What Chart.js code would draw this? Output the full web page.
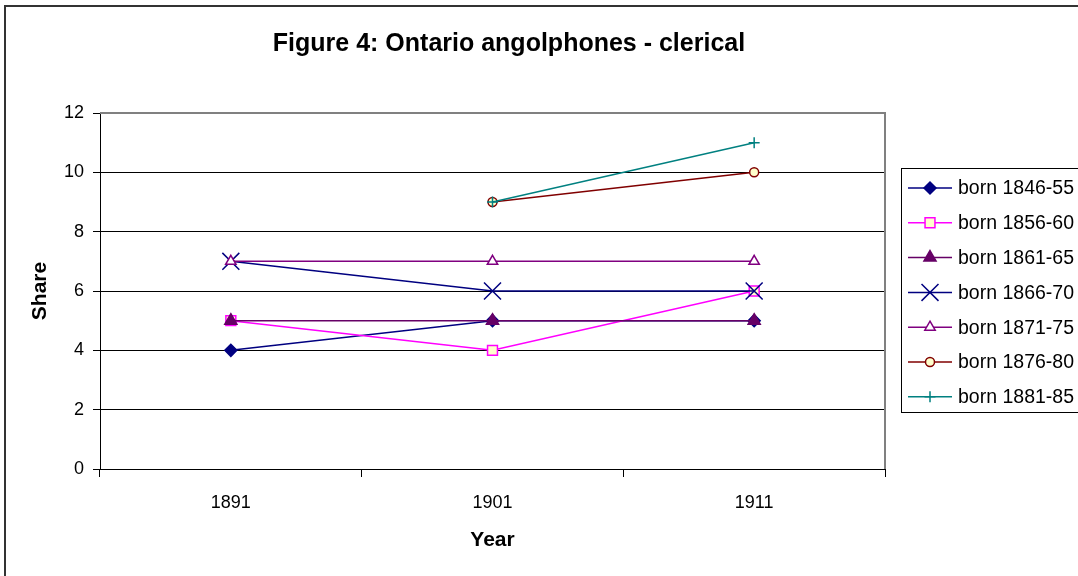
<!DOCTYPE html>
<html>
<head>
<meta charset="utf-8">
<script src="https://cdn.jsdelivr.net/npm/chart.js@4/dist/chart.umd.min.js"></script>
<style>
  html, body { margin: 0; padding: 0; background: #fff; }
  #wrap { width: 1078px; height: 576px; }
</style>
</head>
<body>
<div id="wrap"><canvas id="fig4" width="1078" height="576"></canvas></div>
<script>
    // Datos del gráfico
    const years = ['1891', '1901', '1911'];
    const seriesNames = ['born 1846-55', 'born 1856-60', 'born 1861-65', 'born 1866-70', 'born 1871-75', 'born 1876-80', 'born 1881-85'];
    const born1846 = [4, 5, 5];
    const born1856 = [5, 4, 6];
    const born1861 = [5, 5, 5];
    const born1866 = [7, 6, 6];
    const born1871 = [7, 7, 7];
    const born1876 = [null, 9, 10];
    const born1881 = [null, 9, 11];
    const yTicks = [0, 2, 4, 6, 8, 10, 12];

    const FONT = '"Liberation Sans", Arial, sans-serif';

    // estilo de cada serie (línea + marcador)
    const styles = [
        { color: '#000080', point: 'rectRot', radius: 6, fill: '#000080' },
        { color: '#FF00FF', point: 'rect', radius: 7, fill: '#FFFFCC' },
        { color: '#660066', point: 'triangle', radius: 7, fill: '#660066' },
        { color: '#000080', point: 'crossRot', radius: 12, fill: '#000080' },
        { color: '#800080', point: 'triangle', radius: 6, fill: '#FFFFFF' },
        { color: '#800000', point: 'circle', radius: 4.5, fill: '#FFFFCC' },
        { color: '#008080', point: 'cross', radius: 5.5, fill: '#008080' }
    ];
    const values = [born1846, born1856, born1861, born1866, born1871, born1876, born1881];

    const datasets = values.map((v, i) => ({
        label: seriesNames[i],
        data: v,
        borderColor: styles[i].color,
        backgroundColor: styles[i].fill,
        borderWidth: 1.5,
        pointStyle: styles[i].point,
        pointRadius: styles[i].radius,
        pointHoverRadius: styles[i].radius,
        pointBorderColor: styles[i].color,
        pointBackgroundColor: styles[i].fill,
        pointBorderWidth: 1.5,
        tension: 0,
        order: values.length - i // las últimas series quedan encima
    }));

    // marco exterior, título y leyenda dibujados a mano
    const decor = {
        id: 'decor',
        beforeDraw(chart) {
            const c = chart.ctx;
            c.save();
            c.fillStyle = '#fff';
            c.fillRect(0, 0, chart.width, chart.height);
            c.strokeStyle = '#333';
            c.lineWidth = 2;
            c.strokeRect(5, 6, 1200, 700);
            c.restore();
        },
        afterDatasetsDraw(chart) {
            const c = chart.ctx;
            const a = chart.chartArea;
            c.save();
            // borde gris del área de trazado (arriba y derecha)
            c.strokeStyle = '#808080';
            c.lineWidth = 2;
            c.beginPath();
            c.moveTo(a.left, a.top);
            c.lineTo(a.right, a.top);
            c.lineTo(a.right, a.bottom);
            c.stroke();
            c.restore();
        },
        afterDraw(chart) {
            const c = chart.ctx;
            c.save();
            c.fillStyle = '#000';
            c.font = 'bold 25px ' + FONT;
            c.textAlign = 'center';
            c.textBaseline = 'middle';
            c.fillText('Figure 4: Ontario angolphones - clerical', 509, 44);

            // leyenda
            c.strokeStyle = '#000';
            c.lineWidth = 1;
            c.strokeRect(901.5, 168.5, 300, 244);
            c.font = '19.5px ' + FONT;
            c.textAlign = 'left';
            chart.data.datasets.forEach((ds, i) => {
                const y = 188 + i * 34.8;
                c.strokeStyle = ds.borderColor;
                c.lineWidth = 1.5;
                c.beginPath();
                c.moveTo(908, y);
                c.lineTo(952, y);
                c.stroke();
                c.fillStyle = ds.pointBackgroundColor;
                c.strokeStyle = ds.pointBorderColor;
                c.lineWidth = ds.pointBorderWidth;
                Chart.helpers.drawPoint(c, {
                    pointStyle: ds.pointStyle,
                    radius: ds.pointRadius,
                    rotation: 0,
                    borderWidth: ds.pointBorderWidth
                }, 930, y);
                c.fillStyle = '#000';
                c.fillText(ds.label, 958, y + 1);
            });
            c.restore();
        }
    };

    new Chart(document.getElementById('fig4'), {
        type: 'line',
        data: { labels: years, datasets: datasets },
        options: {
            responsive: false,
            animation: false,
            events: [],
            layout: { autoPadding: false, padding: { left: 0, right: 193, top: 113, bottom: 0 } },
            plugins: {
                legend: { display: false },
                tooltip: { enabled: false }
            },
            scales: {
                x: {
                    type: 'category',
                    offset: true,
                    afterFit(scale) { scale.height = 107; },
                    grid: {
                        offset: true,
                        drawOnChartArea: false,
                        drawTicks: true,
                        tickLength: 8,
                        color: '#000',
                        tickColor: '#000'
                    },
                    border: { display: true, color: '#000', width: 1 },
                    ticks: { color: '#000', font: { family: FONT, size: 18 }, padding: 15, maxRotation: 0 },
                    title: {
                        display: true,
                        text: 'Year',
                        color: '#000',
                        font: { family: FONT, size: 21, weight: 'bold' },
                        padding: { top: 0, bottom: 23 }
                    }
                },
                y: {
                    min: 0,
                    max: 12,
                    afterFit(scale) { scale.width = 100; },
                    afterBuildTicks(scale) { scale.ticks = yTicks.map(v => ({ value: v })); },
                    grid: {
                        color: '#000',
                        lineWidth: 1,
                        drawTicks: true,
                        tickLength: 7,
                        tickColor: '#000'
                    },
                    border: { display: true, color: '#000', width: 1 },
                    ticks: { color: '#000', font: { family: FONT, size: 18 }, padding: 9 },
                    title: {
                        display: true,
                        text: 'Share',
                        color: '#000',
                        font: { family: FONT, size: 21, weight: 'bold' },
                        padding: { top: 28, bottom: 0 }
                    }
                }
            }
        },
        plugins: [decor]
    });
</script>
</body>
</html>
